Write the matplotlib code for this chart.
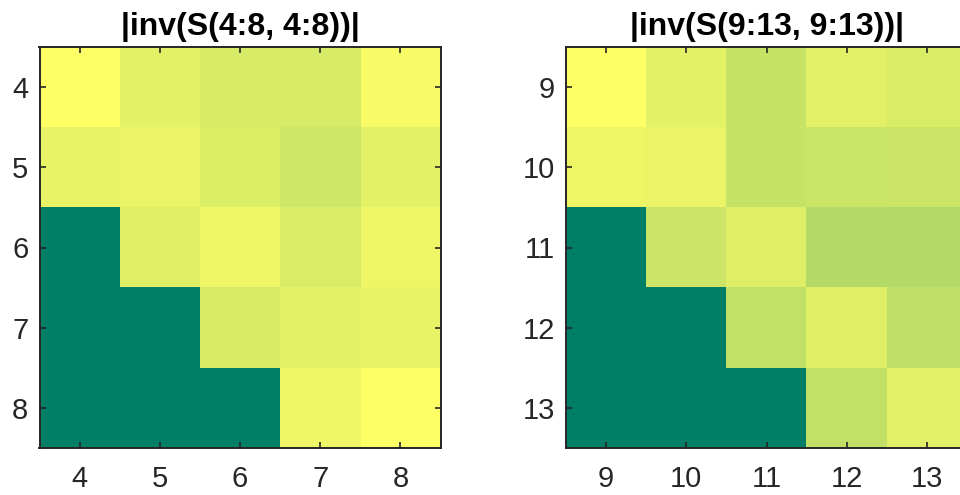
import numpy as np
import matplotlib
matplotlib.use("Agg")
import matplotlib.pyplot as plt

plt.rcParams["font.family"] = ["Liberation Sans", "DejaVu Sans"]

# normalised |inv(S)| blocks, lower triangle is zero
idx_a = [4, 5, 6, 7, 8]
block_a = [
    [1.00, 0.89, 0.84, 0.84, 0.97],
    [0.91, 0.92, 0.86, 0.81, 0.89],
    [0.00, 0.87, 0.94, 0.85, 0.93],
    [0.00, 0.00, 0.84, 0.89, 0.91],
    [0.00, 0.00, 0.00, 0.94, 1.00],
]
title_a = "|inv(S(4:8, 4:8))|"

idx_b = [9, 10, 11, 12, 13]
block_b = [
    [1.00, 0.89, 0.78, 0.88, 0.85],
    [0.93, 0.92, 0.78, 0.79, 0.80],
    [0.00, 0.80, 0.87, 0.70, 0.70],
    [0.00, 0.00, 0.76, 0.87, 0.75],
    [0.00, 0.00, 0.00, 0.76, 0.88],
]
title_b = "|inv(S(9:13, 9:13))|"

fig = plt.figure(figsize=(9.6, 4.95), dpi=100)
W, H = 960, 495
ax_a = fig.add_axes([39.5 / W, 1 - 448 / H, 401 / W, 401 / H])
ax_b = fig.add_axes([566 / W, 1 - 448 / H, 401 / W, 401 / H])

dark = "#262626"
for ax, idx, block, title in [(ax_a, idx_a, block_a, title_a),
                              (ax_b, idx_b, block_b, title_b)]:
    data = np.array(block)
    ext = [idx[0] - 0.5, idx[-1] + 0.5, idx[-1] + 0.5, idx[0] - 0.5]
    ax.imshow(data, cmap="summer", vmin=0, vmax=1, extent=ext,
              interpolation="nearest", aspect="auto")
    ax.set_xticks(idx)
    ax.set_yticks(idx)
    ax.tick_params(direction="in", length=4, width=1.2, colors=dark,
                   labelsize=21, top=True, right=True)
    ax.tick_params(axis="x", pad=12)
    ax.tick_params(axis="y", pad=8)
    for s in ax.spines.values():
        s.set_color(dark)
        s.set_linewidth(1.4)
    ax.set_title(title, fontsize=23, fontweight="bold", pad=9)

fig.savefig("out.png", dpi=100)
